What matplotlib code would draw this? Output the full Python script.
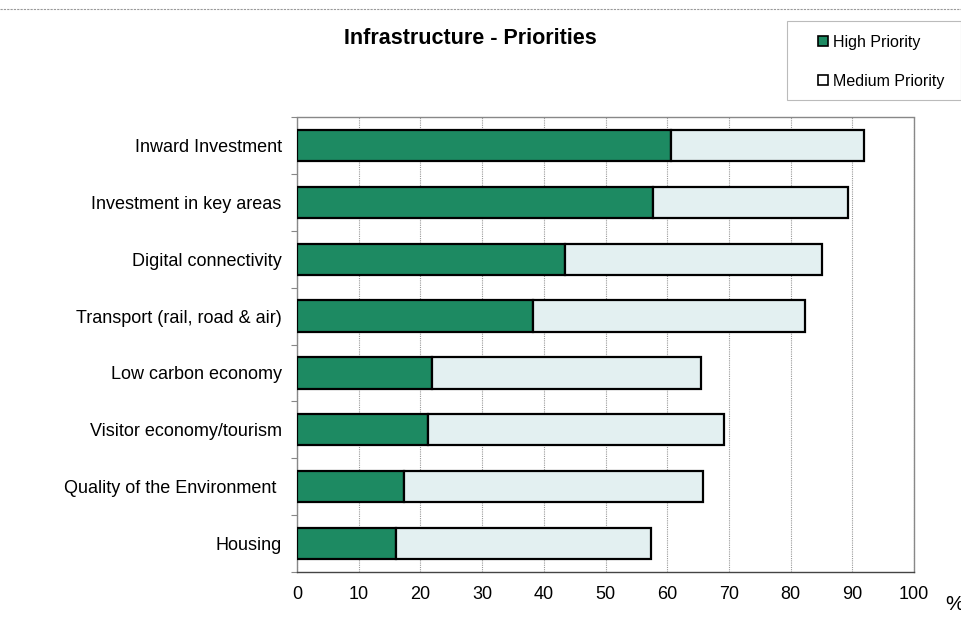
import matplotlib.pyplot as plt
from matplotlib.lines import Line2D
from matplotlib.patches import Rectangle
import numpy as np

plt.rcParams['font.family'] = ['Liberation Sans', 'DejaVu Sans']

categories = ["Inward Investment", "Investment in key areas", "Digital connectivity",
              "Transport (rail, road & air)", "Low carbon economy", "Visitor economy/tourism",
              "Quality of the Environment ", "Housing"]
high = [60.6, 57.7, 43.5, 38.3, 21.8, 21.2, 17.3, 16.0]
medium = [31.3, 31.6, 41.6, 44.0, 43.6, 48.0, 48.5, 41.4]
xticks = [0, 10, 20, 30, 40, 50, 60, 70, 80, 90, 100]

green = "#1d8a62"
pale = "#e3f0f1"

fig = plt.figure(figsize=(9.62, 6.29), dpi=100)
ax = fig.add_axes([297 / 962, 1 - 572 / 629, (914 - 297) / 962, (572 - 117) / 629])

y = np.arange(len(categories))
ax.barh(y, high, height=0.55, color=green, edgecolor="black", linewidth=1.6, zorder=3)
ax.barh(y, medium, left=high, height=0.55, color=pale, edgecolor="black", linewidth=1.6, zorder=3)

ax.set_xlim(0, 100)
ax.set_ylim(len(categories) - 0.5, -0.5)
ax.set_xticks(xticks)
ax.set_xticklabels([str(t) for t in xticks], fontsize=13)
ax.set_yticks(y)
ax.set_yticklabels(categories, fontsize=13)
ax.set_yticks(np.arange(len(categories) + 1) - 0.5, minor=True)
ax.tick_params(axis="y", which="major", length=0, pad=11)
ax.tick_params(axis="y", which="minor", length=4, color="#888888", width=0.8)
ax.tick_params(axis="x", length=0, pad=10)
ax.grid(axis="x", color="#999999", linestyle=(0, (1, 1)), linewidth=0.8, zorder=0)
for s in ax.spines.values():
    s.set_color("#888888")
    s.set_linewidth(1.0)
    s.set_linestyle((0, (1, 1)))
ax.spines["bottom"].set_color("#444444")

fig.text(470 / 962, 1 - 38 / 629, "Infrastructure - Priorities", ha="center", va="center",
         fontsize=15.5, fontweight="bold")
fig.text(945 / 962, 1 - 604 / 629, "%", ha="left", va="center", fontsize=15)

# chart border line across the top
fig.add_artist(Line2D([0, 1], [1 - 9 / 629, 1 - 9 / 629], transform=fig.transFigure,
                      color="#999999", linewidth=0.8, linestyle=(0, (2, 1))))

# legend box
fig.add_artist(Rectangle((787 / 962, 1 - 100 / 629), (961 - 787) / 962, 79 / 629,
                         transform=fig.transFigure, fill=False, edgecolor="#bbbbbb",
                         linewidth=0.8))
handles = [Line2D([], [], marker="s", linestyle="none", markersize=7,
                  markerfacecolor=green, markeredgecolor="black", markeredgewidth=1.2),
           Line2D([], [], marker="s", linestyle="none", markersize=7,
                  markerfacecolor="white", markeredgecolor="black", markeredgewidth=1.2)]
fig.legend(handles, ["High Priority", "Medium Priority"], loc="upper left",
           bbox_to_anchor=(817 / 962, 1 - 35 / 629), fontsize=11.5, frameon=False,
           handlelength=0.7, handletextpad=0.3, labelspacing=1.5, borderpad=0,
           borderaxespad=0)

fig.savefig("out.png", dpi=100)
